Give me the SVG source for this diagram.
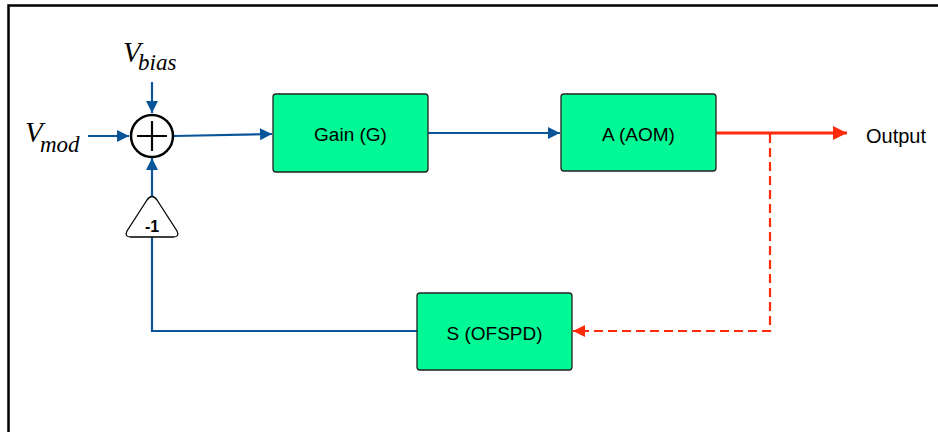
<svg xmlns="http://www.w3.org/2000/svg" width="938" height="432" viewBox="0 0 938 432">
<style>
.box{fill:#00F994;stroke:#222;stroke-width:1.3}
.lbl{font-family:"Liberation Sans",Arial,sans-serif;font-size:19px;fill:#000;text-anchor:middle}
.math{font-family:"Liberation Serif","Times New Roman",serif;font-style:italic;fill:#000}
.blue{fill:none;stroke:#0A559A;stroke-width:2.2}
.red{fill:none;stroke:#FF2A0A;stroke-width:3}
.reddash{fill:none;stroke:#FF2A0A;stroke-width:2.2;stroke-dasharray:9 5}
</style>
<defs>
<marker id="ab" viewBox="0 0 10 10" refX="10" refY="5" markerWidth="15" markerHeight="12" markerUnits="userSpaceOnUse" orient="auto"><path d="M0,0 L10,5 L0,10 Z" fill="#0A559A"/></marker>
<marker id="ar" viewBox="0 0 10 10" refX="10" refY="5" markerWidth="21" markerHeight="14" markerUnits="userSpaceOnUse" orient="auto"><path d="M0,0 L10,5 L0,10 Z" fill="#FF2A0A"/></marker>
<marker id="ard" viewBox="0 0 10 10" refX="10" refY="5" markerWidth="16" markerHeight="12" markerUnits="userSpaceOnUse" orient="auto"><path d="M0,0 L10,5 L0,10 Z" fill="#FF2A0A"/></marker>
</defs>
<rect width="938" height="432" fill="#fff"/>
<path d="M8.5,432 V5.5 H938" fill="none" stroke="#000" stroke-width="2.5"/>
<g id="connectors">
<path class="blue" d="M152,82 V113" marker-end="url(#ab)"/>
<path class="blue" d="M88,136 H129" marker-end="url(#ab)"/>
<path class="blue" d="M174,136 L272,134" marker-end="url(#ab)"/>
<path class="blue" d="M428,133 H560" marker-end="url(#ab)"/>
<path class="red" d="M716,133 H847" marker-end="url(#ar)"/>
<path class="reddash" d="M770,134 V331 H573" marker-end="url(#ard)"/>
<path class="blue" d="M417,331 H152 V237"/>
<path class="blue" d="M152,198 V158" marker-end="url(#ab)"/>
</g>
<g id="vbias"><text class="math" x="123" y="62" font-size="29">V</text><text class="math" x="138" y="70" font-size="23">bias</text></g>
<g id="vmod"><text class="math" x="25" y="142" font-size="29">V</text><text class="math" x="40" y="152" font-size="23">mod</text></g>
<g id="sum">
<circle cx="152" cy="136" r="21" fill="#fff" stroke="#000" stroke-width="2.5"/>
<path d="M152,121 V151 M137,136 H167" stroke="#000" stroke-width="2.2"/>
</g>
<g id="gain"><rect class="box" x="273" y="94" width="155" height="78" rx="3"/><text class="lbl" x="350.5" y="141">Gain (G)</text></g>
<g id="aom"><rect class="box" x="561" y="94" width="155" height="77" rx="3"/><text class="lbl" x="638.5" y="141">A (AOM)</text></g>
<g id="ofspd"><rect class="box" x="417" y="293" width="155" height="77" rx="3"/><text class="lbl" x="494.5" y="339.5">S (OFSPD)</text></g>
<g id="neg"><path d="M147,200 Q152,193 157,200 L177,231 Q180,237 173,237 L131,237 Q124,237 127,231 Z" fill="#fff" stroke="#000" stroke-width="1.3"/><text x="152" y="232" font-family="Liberation Sans,Arial,sans-serif" font-weight="bold" font-size="16" text-anchor="middle">-1</text></g>
<g id="output"><text x="866" y="143" font-family="Liberation Sans,Arial,sans-serif" font-size="20">Output</text></g>
</svg>
